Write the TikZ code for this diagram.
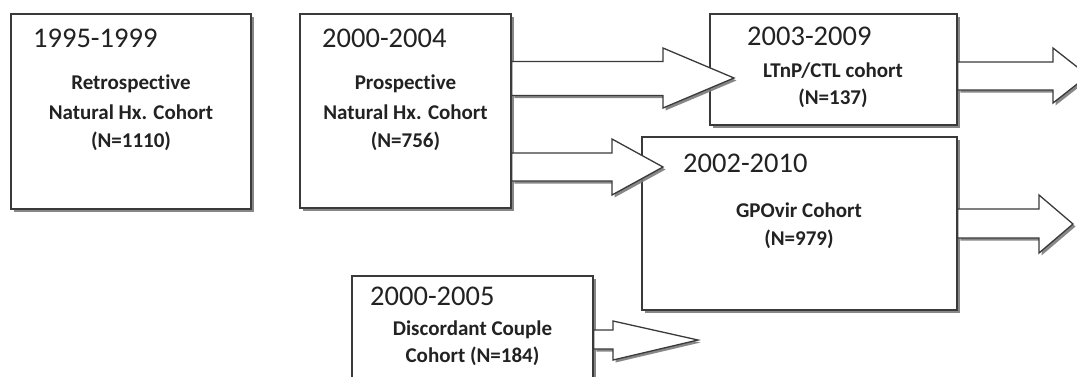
\documentclass[tikz,border=0pt]{standalone}
\usepackage{fontspec}
\setmainfont{Carlito}[Ligatures=NoCommon]
\usetikzlibrary{shadows}
\definecolor{edge}{HTML}{3A3A3A}
\definecolor{ink}{HTML}{222222}
\definecolor{shade}{HTML}{7A7A7A}
\tikzset{
  cbox/.style={draw=edge, line width=1.5pt, fill=white, inner sep=0pt,
    drop shadow={shadow xshift=2.5pt, shadow yshift=-2.5pt, fill=shade, opacity=0.9}},
  blockarrow/.style={draw=edge, line width=1.3pt, fill=white, line join=miter,
    drop shadow={shadow xshift=2.5pt, shadow yshift=-2.5pt, fill=shade, opacity=0.9}},
  yearlbl/.style={anchor=base west, inner sep=0pt, text=ink, font=\fontsize{28.5}{30}\selectfont},
  boldlbl/.style={anchor=base, inner sep=0pt, text=ink, font=\fontsize{21}{25}\selectfont\bfseries},
}
\begin{document}
\begin{tikzpicture}[x=1pt,y=-1pt]
\useasboundingbox (0,0) rectangle (1077,376);
\clip (0,0) rectangle (1077,376);
% boxes
\node[cbox, minimum width=240pt, minimum height=195pt] (b1) at (131,111.5) {};
\node[cbox, minimum width=211pt, minimum height=194pt] (b2) at (405.5,111) {};
\node[cbox, minimum width=247pt, minimum height=111pt] (b3) at (833.5,69.5) {};
\node[cbox, minimum width=315pt, minimum height=173pt] (b4) at (799.5,223.5) {};
\node[cbox, minimum width=241pt, minimum height=125pt] (b5) at (472.5,338.5) {};
% labels
\node[yearlbl] (y1) at (33,47) {1995-1999};
\node[boldlbl] (t1a) at (131,89) {Retrospective};
\node[boldlbl] (t1b) at (131,119) {Natural Hx. Cohort};
\node[boldlbl] (t1c) at (131,147) {(N=1110)};
\node[yearlbl] (y2) at (322,47) {2000-2004};
\node[boldlbl] (t2a) at (405.5,89) {Prospective};
\node[boldlbl] (t2b) at (405.5,119) {Natural Hx. Cohort};
\node[boldlbl] (t2c) at (405.5,147) {(N=756)};
\node[yearlbl] (y3) at (747,45) {2003-2009};
\node[boldlbl] (t3a) at (833,77) {LTnP/CTL cohort};
\node[boldlbl] (t3b) at (833,104) {(N=137)};
\node[yearlbl] (y4) at (683,172) {2002-2010};
\node[boldlbl] (t4a) at (799,217) {GPOvir Cohort};
\node[boldlbl] (t4b) at (799,245) {(N=979)};
\node[yearlbl] (y5) at (370,305) {2000-2005};
\node[boldlbl] (t5a) at (472.5,335) {Discordant Couple};
\node[boldlbl] (t5b) at (472.5,362) {Cohort (N=184)};
% block arrows
\path[blockarrow] (b2.east |- 0,61.5) -- (663,61.5) -- (663,48) -- (734,78) -- (663,108) -- (663,95.5) -- (b2.east |- 0,95.5) -- cycle;
\path[blockarrow] (b2.east |- 0,153) -- (612,153) -- (612,139) -- (663,167) -- (612,195) -- (612,181) -- (b2.east |- 0,181) -- cycle;
\path[blockarrow] (b3.east |- 0,62) -- (1053,62) -- (1053,48) -- (1088,75.5) -- (1053,103) -- (1053,90) -- (b3.east |- 0,90) -- cycle;
\path[blockarrow] (b4.east |- 0,209) -- (1039,209) -- (1039,195) -- (1073,224) -- (1039,253) -- (1039,238) -- (b4.east |- 0,238) -- cycle;
\path[blockarrow] (b5.east |- 0,330) -- (613,330) -- (613,321) -- (698,340) -- (613,360) -- (613,349) -- (b5.east |- 0,349) -- cycle;
\end{tikzpicture}
\end{document}
